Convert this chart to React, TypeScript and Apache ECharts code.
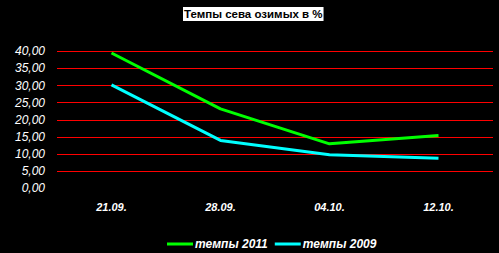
import React, { useEffect, useRef } from "react";
import * as echarts from "echarts";

const categories = ["21.09.", "28.09.", "04.10.", "12.10."];
const series2011 = [39.5, 23.2, 13.0, 15.4];
const series2009 = [30.2, 14.0, 9.8, 8.8];
const seriesNames = ["темпы 2011", "темпы 2009"];
const titleText = "Темпы сева озимых в %";

export default function App() {
  const ref = useRef<HTMLDivElement>(null);
  useEffect(() => {
    if (!ref.current) return;
    const chart = echarts.init(ref.current, null, { renderer: "svg" });
    chart.setOption({
      animation: false,
      backgroundColor: "#000000",
      title: {
        text: titleText,
        left: 183,
        top: 7,
        backgroundColor: "#ffffff",
        padding: [1, 1, 1, 1],
        textStyle: {
          color: "#000000",
          fontFamily: "Liberation Sans",
          fontWeight: "bold",
          fontSize: 11.5,
        },
      },
      grid: { left: 57, right: 6, top: 51.3, bottom: 64.6 },
      xAxis: {
        type: "category",
        data: categories,
        boundaryGap: true,
        axisLine: { show: false },
        axisTick: { show: false },
        axisLabel: {
          color: "#ffffff",
          fontFamily: "Liberation Sans",
          fontWeight: "bold",
          fontStyle: "italic",
          fontSize: 11,
          margin: 13,
        },
        splitLine: { show: false },
      },
      yAxis: {
        type: "value",
        min: 0,
        max: 40,
        interval: 5,
        axisLine: { show: false },
        axisTick: { show: false },
        axisLabel: {
          color: "#ffffff",
          fontFamily: "Liberation Sans",
          fontStyle: "italic",
          fontSize: 12,
          margin: 12,
          formatter: (v: number) => v.toFixed(2).replace(".", ","),
        },
        splitLine: {
          show: true,
          lineStyle: { color: "#ff0000", width: 1 },
          showMinLine: false,
        },
      },
      legend: {
        data: seriesNames,
        left: 162,
        top: 233,
        icon: "rect",
        itemWidth: 26,
        itemHeight: 3,
        itemGap: 7,
        textStyle: {
          color: "#ffffff",
          fontFamily: "Liberation Sans",
          fontWeight: "bold",
          fontStyle: "italic",
          fontSize: 12,
          padding: [0, 0, 0, -3],
        },
      },
      series: [
        {
          name: seriesNames[0],
          type: "line",
          data: series2011,
          symbol: "none",
          itemStyle: { color: "#00ff00" },
          lineStyle: { color: "#00ff00", width: 3 },
        },
        {
          name: seriesNames[1],
          type: "line",
          data: series2009,
          symbol: "none",
          itemStyle: { color: "#00ffff" },
          lineStyle: { color: "#00ffff", width: 3 },
        },
      ],
    });
    return () => chart.dispose();
  }, []);
  return (
    <div
      ref={ref}
      style={{ position: "fixed", left: 0, top: 0, width: 499, height: 253 }}
    />
  );
}
